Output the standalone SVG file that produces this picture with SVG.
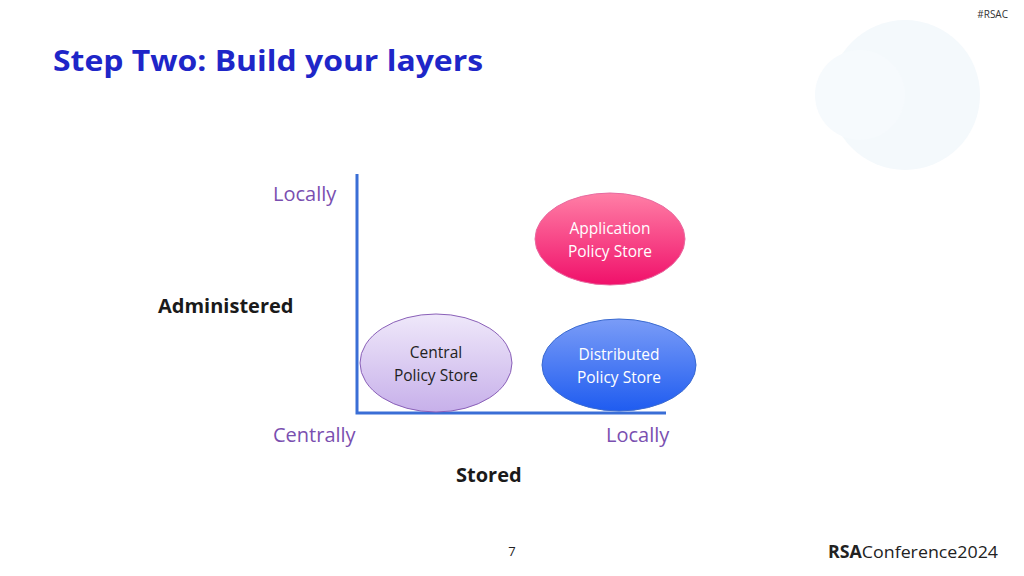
<svg xmlns="http://www.w3.org/2000/svg" width="1024" height="576" viewBox="0 0 1024 576">
<style>
text{font-family:"Open Sans","Liberation Sans",sans-serif}
.ax{font-size:20px;fill:#7a4fb0}
.lb{font-size:20px;font-weight:bold;fill:#1a1a1a}
.nt{font-size:15.5px;text-anchor:middle}
</style>
<defs>
<linearGradient id="gp" x1="0" y1="0" x2="0" y2="1"><stop offset="0" stop-color="#ff7fa6"/><stop offset="1" stop-color="#f0106a"/></linearGradient>
<linearGradient id="gb" x1="0" y1="0" x2="0" y2="1"><stop offset="0" stop-color="#7a9cf7"/><stop offset="1" stop-color="#1f5cf0"/></linearGradient>
<linearGradient id="gl" x1="0" y1="0" x2="0" y2="1"><stop offset="0" stop-color="#efe8fa"/><stop offset="1" stop-color="#c7b0ea"/></linearGradient>
</defs>
<rect width="1024" height="576" fill="#fff"/>
<circle cx="905" cy="95" r="75" fill="#f4f9fc"/>
<circle cx="860" cy="95" r="45" fill="#f6fafd"/>
<text x="1008" y="18" font-size="10" text-anchor="end" fill="#333">#RSAC</text>
<text x="53" y="71" font-size="29" font-weight="bold" fill="#1e26c8" textLength="430" lengthAdjust="spacingAndGlyphs">Step Two: Build your layers</text>
<g id="connectors"><path d="M357 174 V413 H666" fill="none" stroke="#3a6ed6" stroke-width="3"/></g>
<text class="ax" x="273" y="201">Locally</text>
<text class="lb" x="158" y="313">Administered</text>
<text class="ax" x="273" y="442">Centrally</text>
<text class="ax" x="606" y="442">Locally</text>
<text class="lb" x="456" y="482">Stored</text>
<g id="app"><ellipse cx="610" cy="239" rx="75" ry="46" fill="url(#gp)" stroke="#e86aa0"/>
<text class="nt" fill="#fff"><tspan x="610" y="234">Application</tspan><tspan x="610" y="257">Policy Store</tspan></text></g>
<g id="central"><ellipse cx="436" cy="363" rx="76" ry="49" fill="url(#gl)" stroke="#8a60b8"/>
<text class="nt" fill="#222"><tspan x="436" y="358">Central</tspan><tspan x="436" y="381">Policy Store</tspan></text></g>
<g id="dist"><ellipse cx="619" cy="365" rx="77" ry="46" fill="url(#gb)" stroke="#3a6ad0"/>
<text class="nt" fill="#fff"><tspan x="619" y="360">Distributed</tspan><tspan x="619" y="383">Policy Store</tspan></text></g>
<text x="512" y="556" font-size="13" text-anchor="middle" fill="#222">7</text>
<text x="828" y="558" font-size="17" fill="#222" textLength="170" lengthAdjust="spacingAndGlyphs"><tspan font-weight="bold">RSA</tspan>Conference<tspan>2024</tspan></text>
</svg>
